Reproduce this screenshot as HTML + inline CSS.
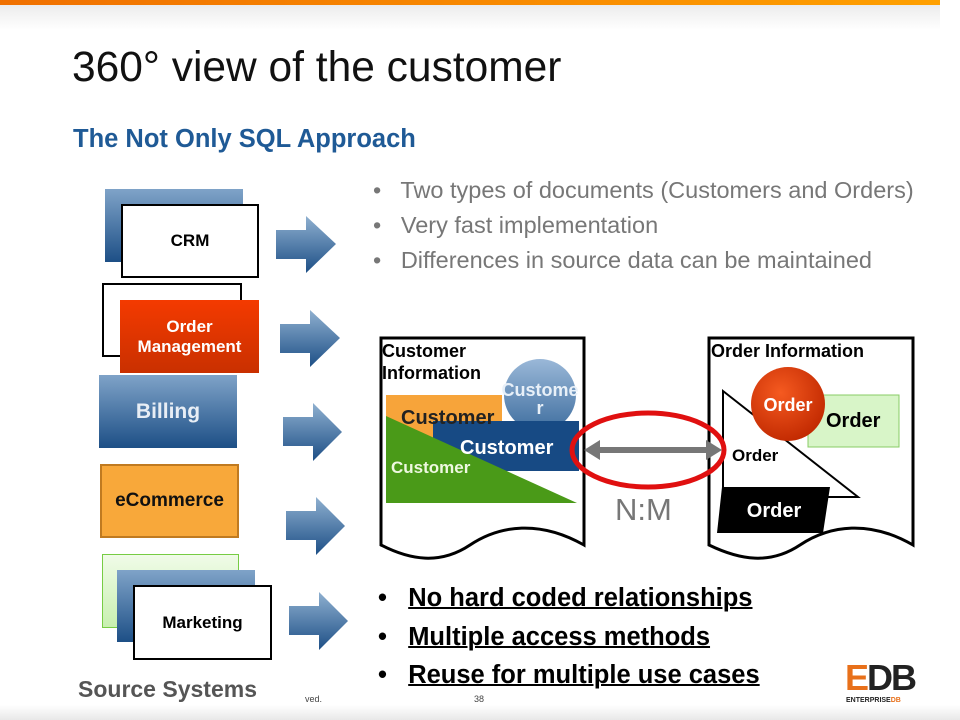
<!DOCTYPE html>
<html><head><meta charset="utf-8"><style>
body{margin:0;width:960px;height:720px;position:relative;overflow:hidden;background:#fff;font-family:"Liberation Sans",sans-serif}
.a{position:absolute}
.box{position:absolute;box-sizing:border-box;display:flex;align-items:center;justify-content:center;font-weight:bold;text-align:center}
.blue{background:linear-gradient(#7fa3c8,#1d4f86)}
.wh{background:#fff;border:2px solid #000;color:#000;font-size:17px}
.bl{position:absolute;color:#777;font-size:23.5px;white-space:nowrap}
.bb{position:absolute;color:#000;font-size:25.5px;font-weight:bold;white-space:nowrap}
.bb u{text-decoration-thickness:2px}
</style></head><body>
<div class="a" style="left:0;top:0;width:940px;height:5px;background:linear-gradient(90deg,#f07000,#ffa000)"></div>
<div class="a" style="left:0;top:5px;width:940px;height:25px;background:linear-gradient(#ececec,#fff)"></div>
<div class="a" style="left:0;top:705px;width:960px;height:15px;background:linear-gradient(#fff,#e8e8e8)"></div>
<div class="a" style="left:72px;top:44px;font-size:42.5px;color:#111;white-space:nowrap">360° view of the customer</div>
<div class="a" style="left:73px;top:125px;font-size:25.5px;font-weight:bold;color:#1f5a96;white-space:nowrap">The Not Only SQL Approach</div>

<div class="box blue" style="left:105px;top:189px;width:138px;height:73px"></div>
<div class="box wh" style="left:121px;top:204px;width:138px;height:74px">CRM</div>
<div class="box wh" style="left:102px;top:283px;width:140px;height:74px"></div>
<div class="box" style="left:120px;top:300px;width:139px;height:73px;background:linear-gradient(#f43a00,#c93000);color:#fff;font-size:17px;line-height:20px">Order<br>Management</div>
<div class="box blue" style="left:99px;top:375px;width:138px;height:73px;color:#e8eef5;font-size:21px">Billing</div>
<div class="box" style="left:100px;top:464px;width:139px;height:74px;background:#f8a83a;border:2px solid #c07a20;color:#111;font-size:19px">eCommerce</div>
<div class="box" style="left:102px;top:554px;width:137px;height:74px;background:linear-gradient(#f0fbe8,#c8f0b0);border:1px solid #7c4"></div>
<div class="box blue" style="left:117px;top:570px;width:138px;height:72px"></div>
<div class="box wh" style="left:133px;top:585px;width:139px;height:75px">Marketing</div>
<div class="a" style="left:78px;top:676px;font-size:23px;font-weight:bold;color:#555">Source Systems</div>
<div class="a" style="left:305px;top:694px;font-size:9px;color:#444">ved.</div>
<div class="a" style="left:474px;top:694px;font-size:9px;color:#444">38</div>

<svg class="a" style="left:0;top:0" width="960" height="720">
<defs>
<linearGradient id="ag" x1="0" y1="0" x2="0" y2="1"><stop offset="0" stop-color="#8fb0d0"/><stop offset="1" stop-color="#1d4f86"/></linearGradient>
<linearGradient id="cg" x1="0" y1="0" x2="0" y2="1"><stop offset="0" stop-color="#9ab8d8"/><stop offset="1" stop-color="#3f6e9f"/></linearGradient>
<radialGradient id="rg" cx=".4" cy=".35" r=".7"><stop offset="0" stop-color="#f55a20"/><stop offset="1" stop-color="#c02800"/></radialGradient>
</defs>
<g fill="url(#ag)">
<polygon points="276,230 306,230 306,216 336,244 306,273 306,259 276,259"/>
<polygon points="280,324 310,324 310,310 340,338 310,367 310,353 280,353"/>
<polygon points="283,417 313,417 313,403 342,432 313,461 313,446 283,446"/>
<polygon points="286,511 316,511 316,497 345,526 316,555 316,540 286,540"/>
<polygon points="289,606 319,606 319,592 348,621 319,650 319,635 289,635"/>
</g>
<path d="M381,338 L584,338 L584,545 C540,520 500,525 470,545 C440,565 410,560 381,545 Z" fill="#fff" stroke="#000" stroke-width="3"/>
<rect x="386" y="395" width="116" height="46" fill="#f7a43a"/>
<circle cx="540" cy="395" r="36" fill="url(#cg)"/>
<rect x="433" y="421" width="146" height="50" fill="#174a84"/>
<polygon points="386,416 386,503 577,503" fill="#4a9a18"/>
<path d="M709,338 L913,338 L913,545 C870,520 830,525 800,545 C770,565 740,560 709,545 Z" fill="#fff" stroke="#000" stroke-width="3"/>
<polygon points="723,391 723,497 858,497" fill="#fff" stroke="#000" stroke-width="2"/>
<rect x="808" y="395" width="91" height="52" fill="#d8f5c8" stroke="#8c6" stroke-width="1"/>
<circle cx="788" cy="404" r="37" fill="url(#rg)"/>
<polygon points="722,487 830,487 823,533 717,533" fill="#000"/>
<ellipse cx="648" cy="450" rx="76" ry="37" fill="none" stroke="#e01010" stroke-width="5"/>
<line x1="598" y1="450" x2="708" y2="450" stroke="#777" stroke-width="6"/>
<polygon points="584,450 600,440 600,460" fill="#777"/>
<polygon points="722,450 706,440 706,460" fill="#777"/>
<g font-family="Liberation Sans,sans-serif" font-weight="bold">
<text x="382" y="357" font-size="18">Customer</text>
<text x="382" y="379" font-size="18">Information</text>
<text x="540" y="396" font-size="18" fill="#e8f0f8" text-anchor="middle">Custome</text>
<text x="540" y="414" font-size="18" fill="#e8f0f8" text-anchor="middle">r</text>
<text x="401" y="424" font-size="20" fill="#222">Customer</text>
<text x="460" y="454" font-size="20" fill="#fff">Customer</text>
<text x="391" y="473" font-size="17" fill="#eef8e0">Customer</text>
<text x="711" y="357" font-size="18">Order Information</text>
<text x="788" y="411" font-size="18" fill="#fff" text-anchor="middle">Order</text>
<text x="826" y="427" font-size="20">Order</text>
<text x="732" y="461" font-size="17">Order</text>
<text x="774" y="517" font-size="20" fill="#fff" text-anchor="middle">Order</text>
</g>
<text x="615" y="520" font-family="Liberation Sans,sans-serif" font-size="31" fill="#777">N:M</text>
</svg>

<div class="bl" style="left:373px;top:177px">•&nbsp;&nbsp; Two types of documents (Customers and Orders)</div>
<div class="bl" style="left:373px;top:212px">•&nbsp;&nbsp; Very fast implementation</div>
<div class="bl" style="left:373px;top:247px">•&nbsp;&nbsp; Differences in source data can be maintained</div>
<div class="bb" style="left:378px;top:584px">•&nbsp;&nbsp;&nbsp;<u>No hard coded relationships</u></div>
<div class="bb" style="left:378px;top:623px">•&nbsp;&nbsp;&nbsp;<u>Multiple access methods</u></div>
<div class="bb" style="left:378px;top:661px">•&nbsp;&nbsp;&nbsp;<u>Reuse for multiple use cases</u></div>

<div class="a" style="left:845px;top:660px;font-size:36px;font-weight:bold;letter-spacing:-2px;line-height:36px"><span style="color:#e8701a">E</span><span style="color:#222">DB</span></div>
<div class="a" style="left:846px;top:697px;font-size:7px;font-weight:bold;color:#222">ENTERPRISE<span style="color:#e8701a">DB</span></div>
</body></html>
